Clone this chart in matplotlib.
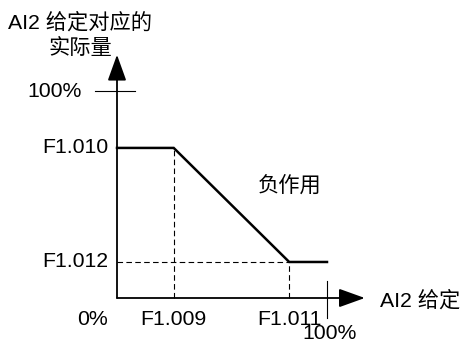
import matplotlib
matplotlib.use("Agg")
import matplotlib.pyplot as plt

plt.rcParams['font.family'] = ['Liberation Sans', 'Noto Sans CJK SC']

# curve: AI2 setting (%) -> actual quantity (%)
x_pts = [0, 27, 82, 100]
y_pts = [72.5, 72.5, 17.4, 17.4]
x_ticks = [27, 82]
x_tick_labels = ["F1.009", "F1.011"]
y_ticks = [72.5, 17.4]
y_tick_labels = ["F1.010", "F1.012"]

W, H = 462, 344
fig = plt.figure(figsize=(W / 100, H / 100), dpi=100)
# axes box: x 0..100 -> px 117..327, y 0..100 -> px 298..91
ax = fig.add_axes([117 / W, (H - 298) / H, 210 / W, 207 / H])
ax.set_xlim(0, 100)
ax.set_ylim(0, 100)
ax.axis('off')

fs = 15.3
lw_ax = 1.3

# axes with arrows
arrow = dict(arrowstyle='-|>,head_length=1.0,head_width=0.36',
             mutation_scale=16, color='black', lw=lw_ax, shrinkA=0, shrinkB=0)
ax.annotate('', xy=(118, 0), xytext=(0, 0), arrowprops=arrow, annotation_clip=False)
ax.annotate('', xy=(0, 117.5), xytext=(0, 0), arrowprops=arrow, annotation_clip=False)

# 100% ticks
ax.plot([-10.5, 8.5], [100, 100], color='black', lw=0.8, clip_on=False)
ax.plot([100, 100], [8.2, -9.7], color='black', lw=0.8, clip_on=False)

# dashed guides
dash = dict(color='black', lw=0.8, ls=(0, (5, 3)), clip_on=False)
for xv, yv in zip(x_ticks, [y_pts[1], y_pts[2]]):
    ax.plot([xv, xv], [0, yv], **dash)
ax.plot([0, x_ticks[1]], [y_ticks[1], y_ticks[1]], **dash)

# main curve
ax.plot(x_pts, y_pts, color='black', lw=1.8, clip_on=False, solid_joinstyle='miter')

# tick labels
for yv, lab in zip(y_ticks, y_tick_labels):
    ax.text(-4.3, yv, lab, ha='right', va='center', fontsize=fs)
ax.text(-16.7, 100, "100%", ha='right', va='center', fontsize=fs)
for xv, lab in zip(x_ticks, x_tick_labels):
    ax.text(xv, -10.2, lab, ha='center', va='center', fontsize=fs)
ax.text(-4.3, -10.2, "0%", ha='right', va='center', fontsize=fs)
ax.text(101, -21.9, "100%", ha='center', va='bottom', fontsize=fs)

# titles
cjk = dict(fontsize=fs, fontweight='light')
fig.text(8 / W, 1 - 22 / H, "AI2 给定对应的", ha='left', va='center', **cjk)
fig.text(48 / W, 1 - 48 / H, "实际量", ha='left', va='center', **cjk)
fig.text(380 / W, 1 - 300 / H, "AI2 给定", ha='left', va='center', **cjk)
fig.text(258 / W, 1 - 186 / H, "负作用", ha='left', va='center', **cjk)

fig.savefig("out.png", dpi=100)
